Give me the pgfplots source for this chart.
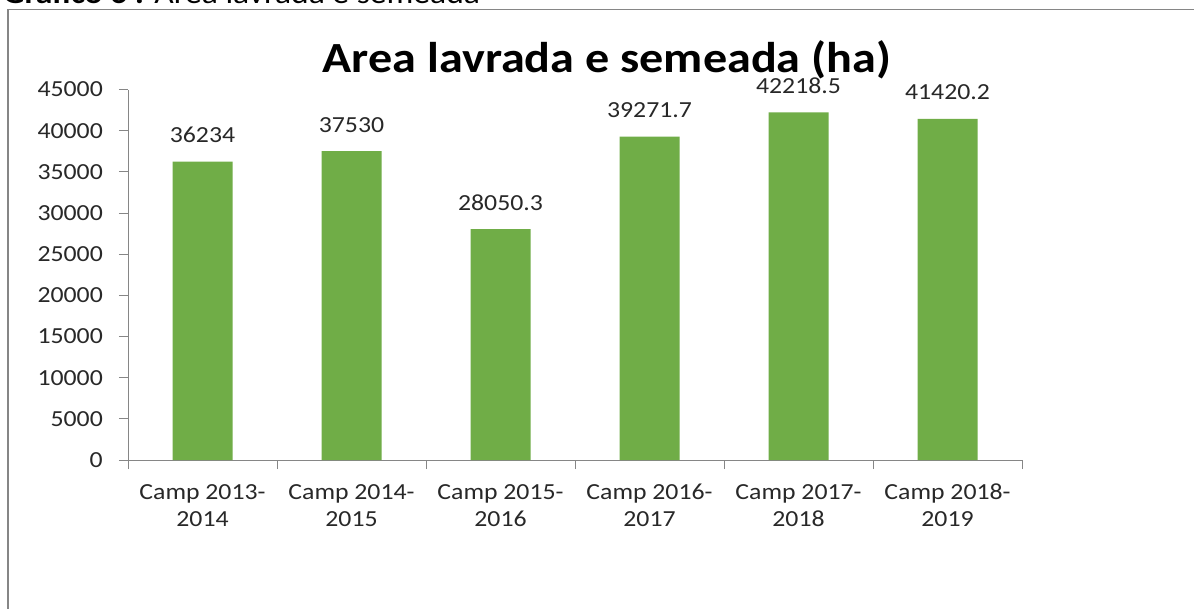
\documentclass[border=0pt]{standalone}
\usepackage{fontspec}
\setmainfont{Carlito}[FakeStretch=1.12]
\usepackage{pgfplots}
\pgfplotsset{compat=1.18}
\usepackage{pgfplotstable}
\definecolor{bargreen}{RGB}{112,173,71}
\definecolor{axgray}{RGB}{134,134,134}
\definecolor{txt}{RGB}{40,40,40}
\pgfplotstableread{
x y label
0 36234 36234
1 37530 37530
2 28050.3 28050.3
3 39271.7 39271.7
4 42218.5 42218.5
5 41420.2 41420.2
}\datatable
\begin{document}
\begin{tikzpicture}
\useasboundingbox (0pt,0pt) rectangle (1194pt,-609pt);
\clip (0pt,0pt) rectangle (1194pt,-609pt);
\fill[white] (0pt,0pt) rectangle (1194pt,-609pt);
\draw[color=axgray, line width=1.2pt] (8pt,-9.5pt) rectangle (1300pt,-700pt);
\node[anchor=base west, font=\fontsize{30}{33}\selectfont, inner sep=0pt, text=black] at (3pt,-4pt) {\textbf{Gráfico 6 :} Área lavrada e semeada};
\begin{axis}[
  at={(128pt,-460pt)}, anchor=south west,
  scale only axis, width=894pt, height=370.5pt,
  xmin=-0.5, xmax=5.5, ymin=0, ymax=45000,
  axis x line*=bottom, axis y line*=left,
  axis line style={axgray, line width=1pt, -},
  tick align=outside,
  major tick length=9pt, minor tick length=9pt,
  ytick={0,5000,...,45000},
  scaled y ticks=false,
  /pgf/number format/1000 sep={},
  /pgf/number format/assume math mode=true,
  ytick style={axgray, line width=1pt},
  yticklabel style={font=\fontsize{23}{27}\selectfont, text=txt, anchor=east, inner sep=0pt, xshift=-16pt},
  xtick={0,...,5},
  xticklabels={{Camp 2013-\\2014},{Camp 2014-\\2015},{Camp 2015-\\2016},{Camp 2016-\\2017},{Camp 2017-\\2018},{Camp 2018-\\2019}},
  major x tick style={draw=none},
  minor xtick={-0.5,0.5,...,5.5},
  minor x tick style={axgray, line width=1pt},
  xticklabel style={font=\fontsize{23}{27}\selectfont, text=txt, align=center, anchor=north, inner sep=0pt, yshift=-15pt},
  ybar, bar width=60pt,
  nodes near coords, point meta=explicit symbolic,
  every node near coord/.append style={font=\fontsize{23}{27}\selectfont, text=txt, anchor=base, inner sep=0pt, yshift=19pt},
]
\addplot[fill=bargreen, draw=none] table[x=x,y=y,meta=label]{\datatable};
\end{axis}
\node[anchor=base, font=\fontsize{43}{48}\selectfont\bfseries, inner sep=0pt, text=black] at (607pt,-73pt) {Area lavrada e semeada (ha)};
\end{tikzpicture}
\end{document}
